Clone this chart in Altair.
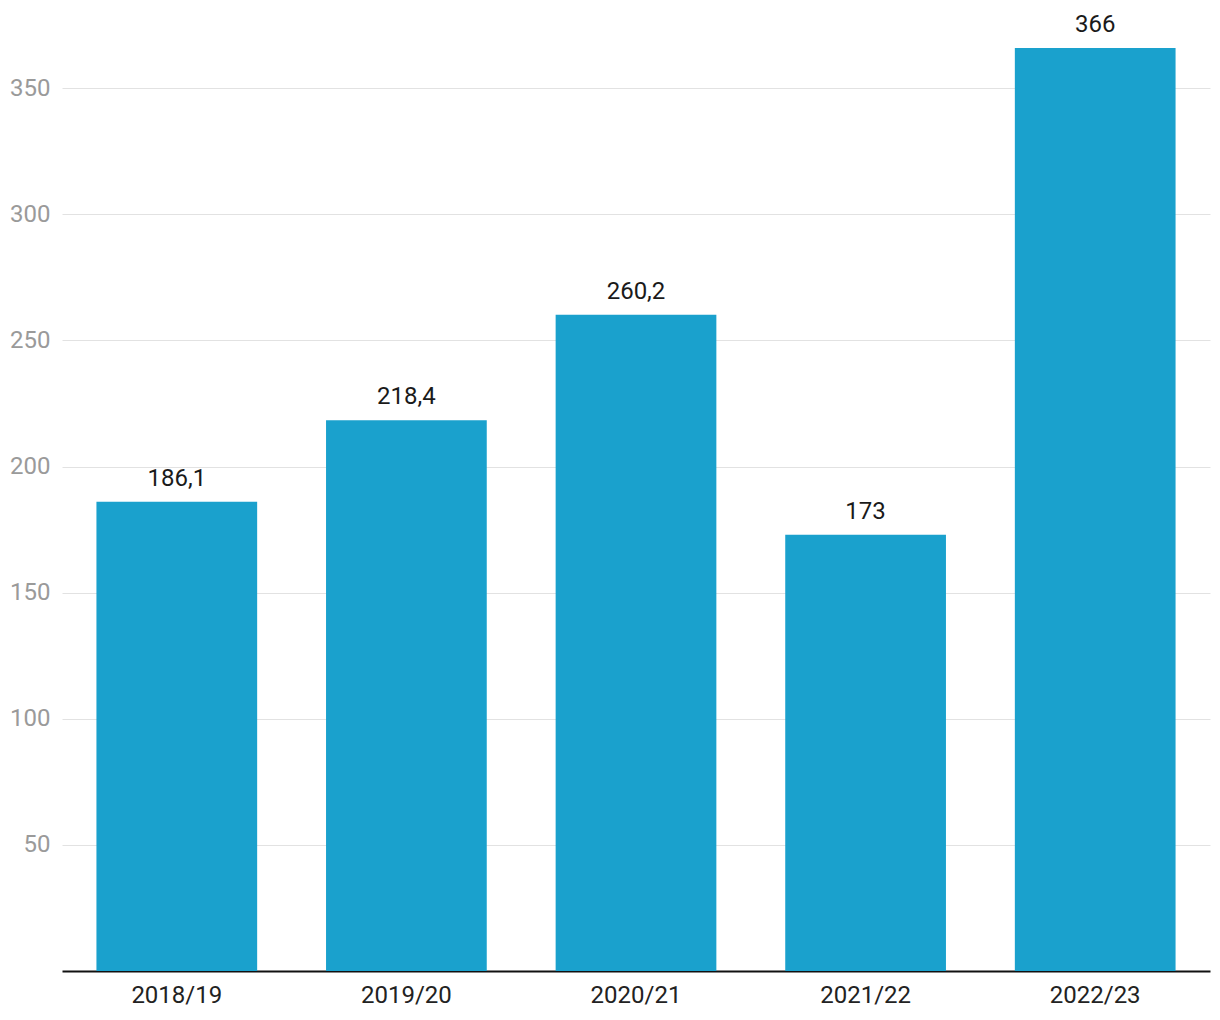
import altair as alt
import pandas as pd

seasons = ["2018/19", "2019/20", "2020/21", "2021/22", "2022/23"]
values = [186.1, 218.4, 260.2, 173, 366]
labels = ["186,1", "218,4", "260,2", "173", "366"]
y_ticks = [50, 100, 150, 200, 250, 300, 350]

df = pd.DataFrame({"season": seasons, "value": values, "label": labels})

x = alt.X("season:N", sort=seasons, title=None,
          scale=alt.Scale(paddingInner=0.3, paddingOuter=0.15),
          axis=alt.Axis(labelAngle=0, labelFont="Roboto", labelFontSize=24,
                        labelColor="#222222", labelPadding=12, ticks=False,
                        domainColor="#111111", domainWidth=2, grid=False))
y = alt.Y("value:Q", title=None,
          scale=alt.Scale(domain=[0, 385], nice=False),
          axis=alt.Axis(values=y_ticks, labelFont="Roboto", labelFontSize=24,
                        labelColor="#9a9a9a", labelPadding=12, ticks=False,
                        domain=False, gridColor="#e2e2e2", gridWidth=1))

bars = alt.Chart(df).mark_bar(color="#1aa1cd").encode(x=x, y=y)
text = alt.Chart(df).mark_text(baseline="bottom", dy=-11, font="Roboto",
                               fontSize=24, color="#1a1a1a").encode(
    x=alt.X("season:N", sort=seasons), y="value:Q", text="label:N")

chart = (bars + text).properties(
    width=1148, height=971,
    background="white",
    autosize=alt.AutoSizeParams(type="none"),
    padding={"left": 62, "top": 0, "right": 10, "bottom": 49},
).configure_view(strokeWidth=0, stroke="transparent")

chart.save("out.html", embed_options={"renderer": "svg", "actions": False})
